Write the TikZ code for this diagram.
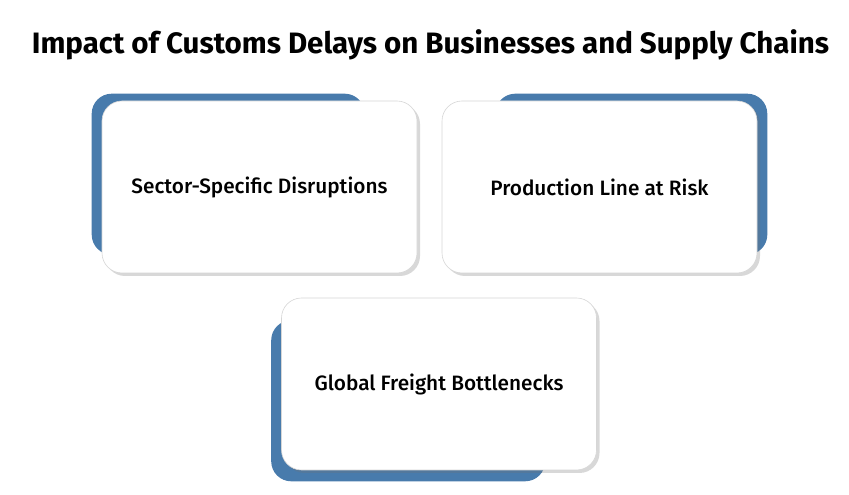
\documentclass[tikz,border=0pt]{standalone}
\usepackage{fontspec}
\setmainfont{Fira Sans}
\newfontfamily\medfont{Fira Sans Medium}
\usepackage{xcolor}
\usepackage{tikz}
\usetikzlibrary{positioning,calc,backgrounds,shadows}
\definecolor{backblue}{RGB}{72,123,172}
\definecolor{cardrule}{RGB}{214,214,214}

\begin{document}
\begin{tikzpicture}[x=1pt,y=1pt,
  card/.style={draw=cardrule,line width=0.6pt,fill=white,rounded corners=20pt,
              minimum width=315pt,minimum height=172pt,align=center,
              font=\medfont\fontsize{20.8}{24}\selectfont,
              drop shadow={shadow xshift=3pt,shadow yshift=-3pt,opacity=0.28,fill=black!55}},
  backing/.style={fill=backblue,rounded corners=20pt}]
  \useasboundingbox (0,0) rectangle (849,495);
  \node[font=\bfseries\fontsize{29.5}{34}\selectfont](title) at (430.5,450)
    {Impact of Customs Delays on Businesses and Supply Chains};
  \node[card](sector) at (259.5,308){Sector-Specific Disruptions};
  \node[card](prod) at (599.5,308){Production Line at Risk};
  \node[card](freight) at (439,111){Global Freight Bottlenecks};
  \begin{scope}[on background layer]
    \fill[backing] ($(sector.north west)+(-10,7)$) rectangle ($(sector.north west)+(263,-154)$);
    \fill[backing] ($(prod.north east)+(10,7)$) rectangle ($(prod.north east)+(-262,-154)$);
    \fill[backing] ($(freight.south west)+(-10,-11)$) rectangle ($(freight.south west)+(264,150)$);
  \end{scope}
\end{tikzpicture}
\end{document}
